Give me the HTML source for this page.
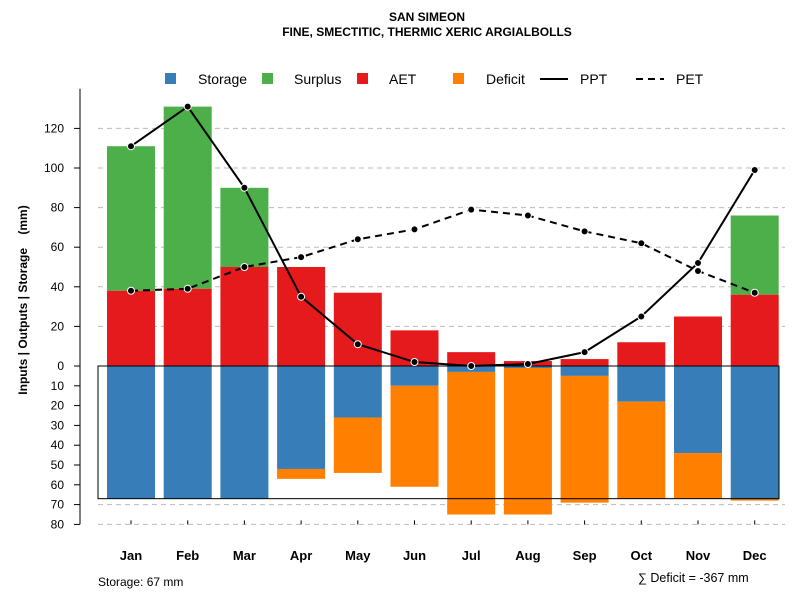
<!DOCTYPE html>
<html><head><meta charset="utf-8"><style>
body{margin:0;background:#fff;}
svg{font-family:"Liberation Sans",sans-serif;}
</style></head><body>
<svg id="chart" width="800" height="600">
<text x="427" y="21" text-anchor="middle" font-size="12" font-weight="bold">SAN SIMEON</text>
<text x="427" y="36" text-anchor="middle" font-size="12" font-weight="bold">FINE, SMECTITIC, THERMIC XERIC ARGIALBOLLS</text>
<g id="grid"></g><g id="bars"></g><g id="lines"></g><g id="axes"></g>
<g font-size="14">
<rect x="165" y="73" width="11" height="11" fill="#377EB8"/><text x="198" y="84">Storage</text>
<rect x="262" y="73" width="11" height="11" fill="#4DAF4A"/><text x="294" y="84">Surplus</text>
<rect x="357" y="73" width="11" height="11" fill="#E41A1C"/><text x="389" y="84">AET</text>
<rect x="453" y="73" width="11" height="11" fill="#FF7F00"/><text x="486" y="84">Deficit</text>
<line x1="540" y1="79" x2="568" y2="79" stroke="#000" stroke-width="2"/><text x="580" y="84">PPT</text>
<line x1="636" y1="79" x2="664" y2="79" stroke="#000" stroke-width="2" stroke-dasharray="7,5"/><text x="676" y="84">PET</text>
</g>
<text transform="translate(27,300) rotate(-90)" text-anchor="middle" font-size="12" font-weight="bold" xml:space="preserve" style="white-space:pre">Inputs | Outputs | Storage    (mm)</text>
<text x="98" y="586" font-size="12">Storage: 67 mm</text>
<text x="638" y="582" font-size="12.5">∑ Deficit = -367 mm</text>
</svg>
<script>
const months=["Jan","Feb","Mar","Apr","May","Jun","Jul","Aug","Sep","Oct","Nov","Dec"];
const ppt=[111,131,90,35,11,2,0,1,7,25,52,99];
const pet=[38,39,50,55,64,69,79,76,68,62,48,37];
const aet=[38,39,50,50,37,18,7,2.5,3.5,12,25,36];
const surplus=[73,92,40,0,0,0,0,0,0,0,0,40];
const storage=[67,67,67,52,26,10,3,1,5,18,44,67];
const deficit=[0,0,0,5,28,51,72,74,64,49,23,1];
const upTicks=[0,20,40,60,80,100,120];
const downTicks=[10,20,30,40,50,60,70,80];
const maxStorage=67;
const NS="http://www.w3.org/2000/svg";
const y0=366,k=1.98;
const yUp=v=>y0-v*k, yDn=v=>y0+v*k;
const xc=i=>131+i*56.7;
const bw=48;
function mk(t,a,p){const e=document.createElementNS(NS,t);for(const n in a)e.setAttribute(n,a[n]);document.getElementById(p).appendChild(e);return e;}
upTicks.forEach(v=>{if(v>0){const l=mk("line",{x1:98,x2:785,y1:yUp(v),y2:yUp(v),stroke:"#bbb","stroke-dasharray":"5,4"},"grid");

}
const t=mk("text",{x:64,y:yUp(v)+4,"text-anchor":"end","font-size":"12"},"axes");t.textContent=v;


mk("line",{x1:74,x2:80,y1:yUp(v),y2:yUp(v),stroke:"#000"},"axes");});
downTicks.forEach(v=>{if(v>=70){const l=mk("line",{x1:98,x2:785,y1:yDn(v),y2:yDn(v),stroke:"#bbb","stroke-dasharray":"5,4"},"grid");

}
const t=mk("text",{x:64,y:yDn(v)+4,"text-anchor":"end","font-size":"12"},"axes");t.textContent=v;


mk("line",{x1:74,x2:80,y1:yDn(v),y2:yDn(v),stroke:"#000"},"axes");});
const ax=mk("line",{x1:80,x2:80,y1:yUp(140),y2:yDn(80),stroke:"#000"},"axes");


months.forEach((m,i)=>{const x=xc(i);
if(surplus[i]>0){const r=mk("rect",{x:x-bw/2,y:yUp(aet[i]+surplus[i]),width:bw,height:surplus[i]*k,fill:"#4DAF4A"},"bars");

}
const a=mk("rect",{x:x-bw/2,y:yUp(aet[i]),width:bw,height:aet[i]*k,fill:"#E41A1C"},"bars");


const s=mk("rect",{x:x-bw/2,y:y0,width:bw,height:storage[i]*k,fill:"#377EB8"},"bars");


if(deficit[i]>0){const d=mk("rect",{x:x-bw/2,y:yDn(storage[i]),width:bw,height:deficit[i]*k,fill:"#FF7F00"},"bars");

}
mk("line",{x1:x,x2:x,y1:yDn(80),y2:yDn(80)-4,stroke:"#000"},"axes");
const t=mk("text",{x:x,y:560,"text-anchor":"middle","font-size":"13","font-weight":"bold"},"axes");t.textContent=m;

});
const box=mk("rect",{x:98,y:y0,width:681,height:maxStorage*k,fill:"none",stroke:"#000"},"bars");


function series(vals,dash,name){const p=mk("polyline",{points:vals.map((v,i)=>xc(i)+","+yUp(v)).join(" "),fill:"none",stroke:"#000","stroke-width":2,"stroke-dasharray":dash},"lines");


vals.forEach((v,i)=>{const c=mk("circle",{cx:xc(i),cy:yUp(v),r:3.5,fill:"#000",stroke:"#fff","stroke-width":1},"lines");

});}
series(pet,"7,5","pet");
series(ppt,"none","ppt");
</script>
</body></html>
